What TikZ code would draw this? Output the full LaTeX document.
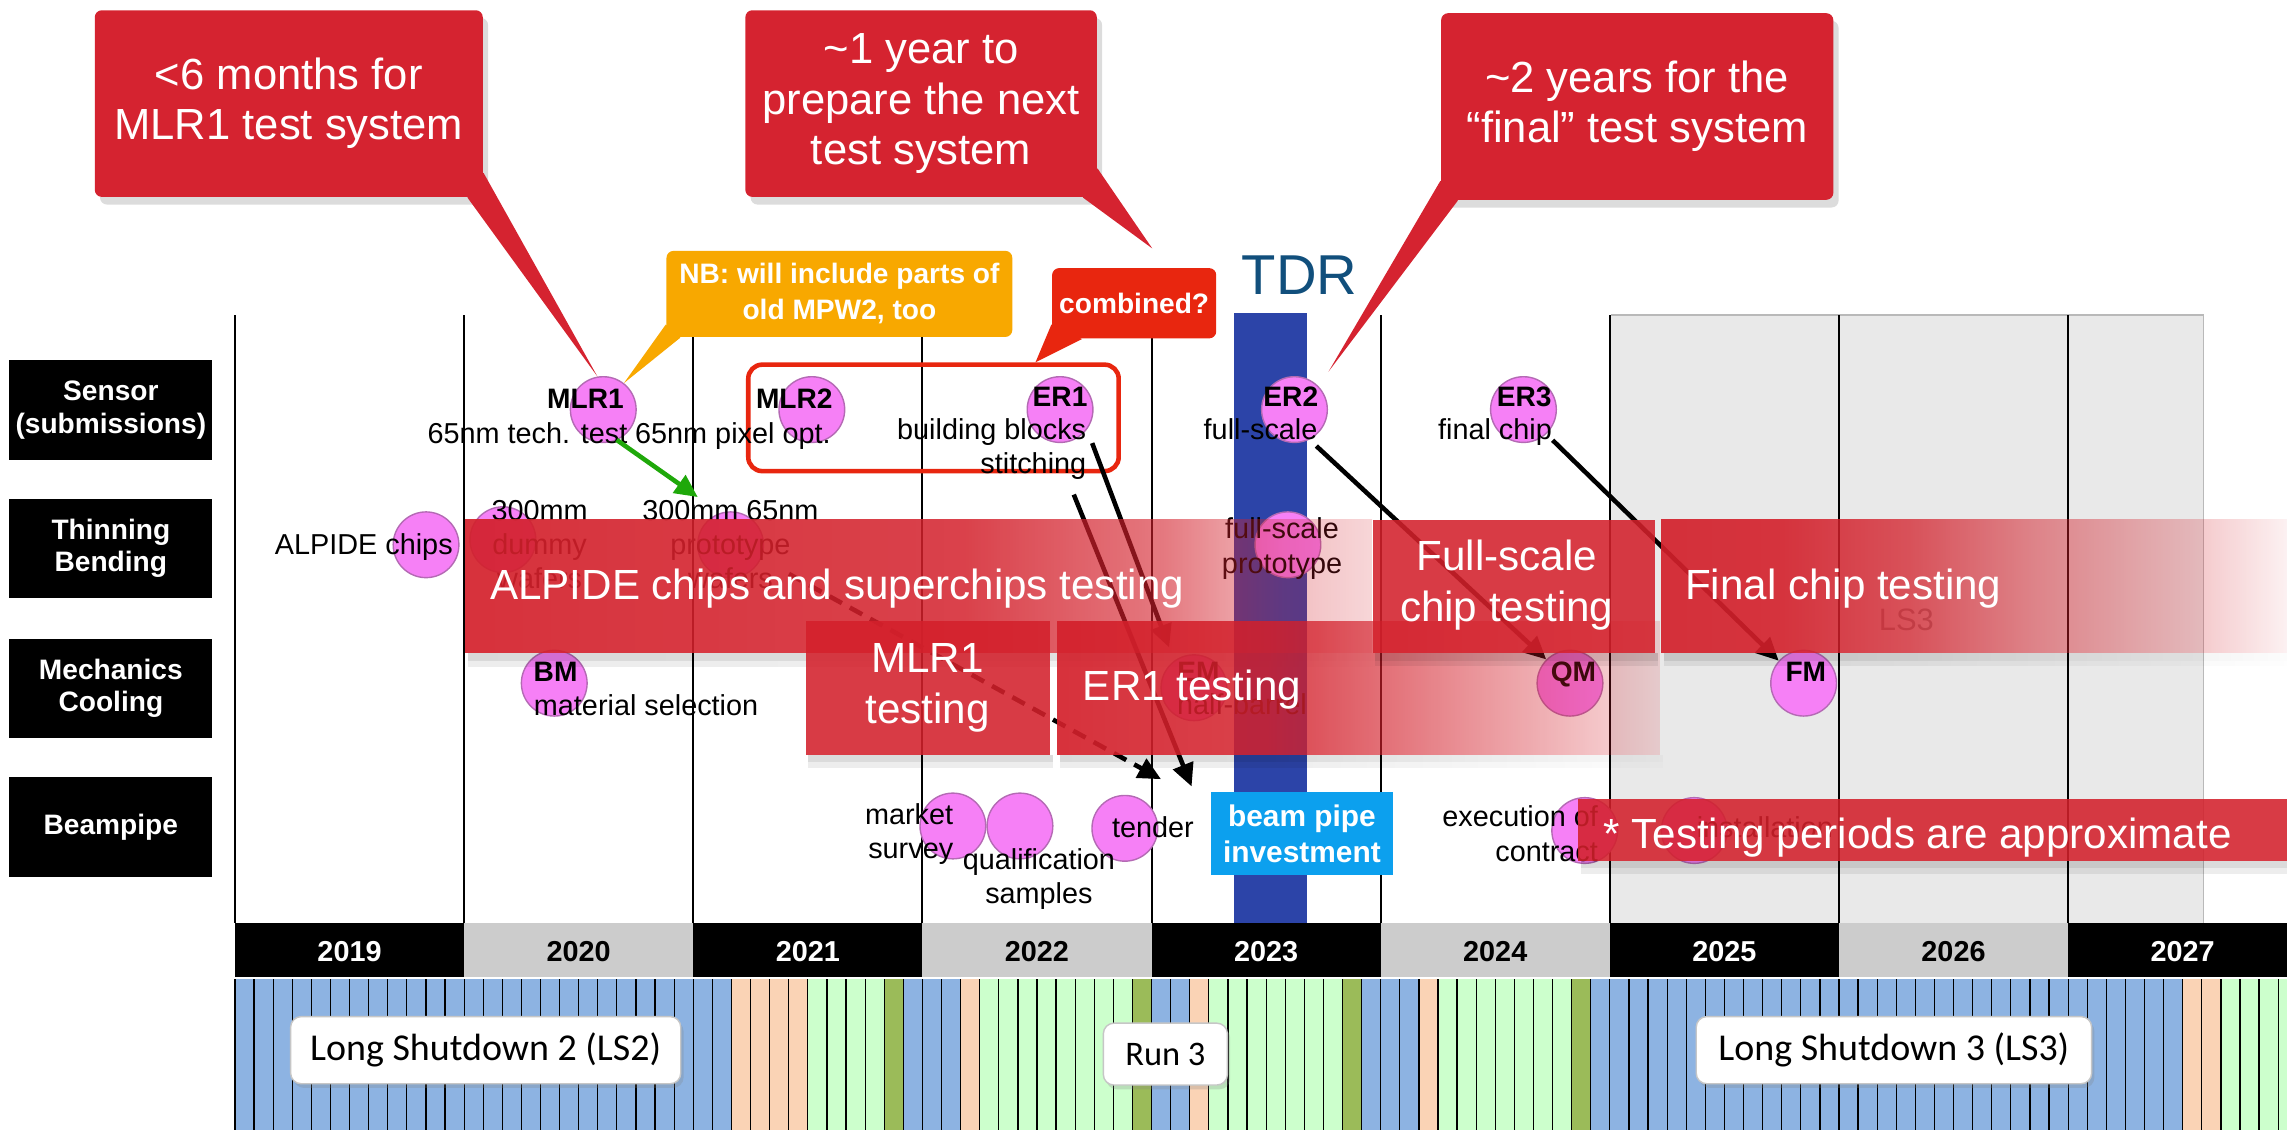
\documentclass[tikz,border=0pt]{standalone}
\usepackage{fontspec}
\setmainfont{Liberation Sans}
\newfontfamily\calfont{Carlito}
\usetikzlibrary{arrows.meta,calc,positioning,shadows,fadings}
\definecolor{callred}{HTML}{D52330}
\definecolor{bandred}{HTML}{D3202B}
\definecolor{nbyellow}{HTML}{F8A800}
\definecolor{combred}{HTML}{E8260F}
\definecolor{mspink}{HTML}{F680F6}
\definecolor{msedge}{HTML}{B46AB4}
\definecolor{tdrblue}{HTML}{114F7C}
\definecolor{tdrbar}{HTML}{2C44A8}
\definecolor{bpblue}{HTML}{0CA0EE}
\definecolor{yeargray}{HTML}{CCCCCC}
\definecolor{lsgray}{HTML}{E9E9E9}
\definecolor{mblue}{HTML}{8DB3E2}
\definecolor{mpeach}{HTML}{FAD3B5}
\definecolor{mgreen}{HTML}{CCFFCC}
\definecolor{molive}{HTML}{9BBB59}
\definecolor{arrgreen}{HTML}{1FA80A}
% the path spans 25bp..75bp of a fading
\pgfdeclarehorizontalshading{shflat}{100bp}{color(0bp)=(pgftransparent!12); color(100bp)=(pgftransparent!12)}
\pgfdeclarehorizontalshading{shA}{100bp}{color(0bp)=(pgftransparent!8); color(25bp)=(pgftransparent!8); color(52.5bp)=(pgftransparent!15); color(63.5bp)=(pgftransparent!40); color(70bp)=(pgftransparent!70); color(75bp)=(pgftransparent!82); color(100bp)=(pgftransparent!82)}
\pgfdeclarehorizontalshading{shC}{100bp}{color(0bp)=(pgftransparent!8); color(25bp)=(pgftransparent!8); color(42.5bp)=(pgftransparent!15); color(58.5bp)=(pgftransparent!50); color(75bp)=(pgftransparent!85); color(100bp)=(pgftransparent!85)}
\pgfdeclarehorizontalshading{shE}{100bp}{color(0bp)=(pgftransparent!8); color(25bp)=(pgftransparent!8); color(35bp)=(pgftransparent!10); color(45bp)=(pgftransparent!25); color(55bp)=(pgftransparent!50); color(67.5bp)=(pgftransparent!75); color(75bp)=(pgftransparent!94); color(100bp)=(pgftransparent!94)}
\pgfdeclarefading{bandflat}{\pgfuseshading{shflat}}
\pgfdeclarefading{bandfadeA}{\pgfuseshading{shA}}
\pgfdeclarefading{bandfadeC}{\pgfuseshading{shC}}
\pgfdeclarefading{bandfadeE}{\pgfuseshading{shE}}
\tikzset{
 lane/.style={fill=black,text=white,font=\bfseries\fontsize{8}{9.3}\selectfont,align=center,minimum width=57.8pt,minimum height=28.4pt,inner sep=0pt},
 ms/.style={circle,fill=mspink,draw=msedge,line width=0.4pt,minimum size=18.7pt,inner sep=0pt},
 msname/.style={font=\bfseries\fontsize{8}{9.6}\selectfont,inner sep=0pt,anchor=base},
 mstext/.style={font=\fontsize{8.2}{9.8}\selectfont,inner sep=0pt,align=center},
 yrlbl/.style={font=\bfseries\fontsize{8.2}{9.6}\selectfont,inner sep=0pt,anchor=base},
 sched/.style={fill=white,draw=gray!45,line width=0.4pt,rounded corners=3pt,font=\calfont\fontsize{10.8}{12}\selectfont,inner sep=0pt,minimum height=19.1pt,drop shadow={opacity=0.25,shadow xshift=0.8pt,shadow yshift=-1.2pt}},
 callbox/.style={fill=callred,text=white,rounded corners=2pt,font=\fontsize{12.4}{14.3}\selectfont,align=center,inner sep=0pt,drop shadow={opacity=0.28,shadow xshift=1.5pt,shadow yshift=-2.2pt}},
 notebox/.style={text=white,rounded corners=2pt,font=\bfseries\fontsize{8}{10.2}\selectfont,align=center,inner sep=0pt},
 bandtxt/.style={text=white,font=\fontsize{12}{14.6}\selectfont,align=center,inner sep=0pt},
 arr/.style={line width=1.3pt,-{Triangle[length=6.5pt,width=6pt]}},
}
\newcommand{\tband}[5]{% x1 y1 x2 y2 fading
 \fill[black,fill opacity=0.16,path fading=#5] (#1+2,#4) rectangle (#3+2,#4+5);
 \fill[black,fill opacity=0.08,path fading=#5] (#1+2,#4+5) rectangle (#3+2,#4+9);
 \fill[bandred,path fading=#5] (#1,#2) rectangle (#3,#4);
}

\begin{document}
\begin{tikzpicture}[x=0.415pt,y=-0.415pt]
\useasboundingbox (0,0) rectangle (1568,775);
\clip (0,0) rectangle (1568,775);

% timeline grid
\fill[lsgray] (1104.2,216) rectangle (1510.6,633);
\draw[gray!55,line width=0.4pt] (1104.2,216) -- (1510.6,216) -- (1510.6,633);
\fill[tdrbar] (846.2,214.3) rectangle (895.8,633);
\foreach \i in {0,...,8} \draw[line width=0.55pt] ({161.1+\i*157.1},216) -- ({161.1+\i*157.1},633);
\foreach \i/\yr/\bg/\fg in {0/2019/black/white,1/2020/yeargray/black,2/2021/black/white,3/2022/yeargray/black,4/2023/black/white,5/2024/yeargray/black,6/2025/black/white,7/2026/yeargray/black,8/2027/black/white} {
 \fill[\bg] ({161.1+\i*157.1},633) rectangle ++(157.1,36.5);
 \node[yrlbl,text=\fg] (y\yr) at ({161.1+(\i+0.5)*157.1},659) {\yr};
}

% LHC schedule
\fill[mblue] (161.1,671.5) rectangle (1568,775);
\foreach \a/\b/\c in {26/30/mpeach,30/34/mgreen,34/35/molive,38/39/mpeach,39/47/mgreen,47/48/molive,50/51/mpeach,51/58/mgreen,58/59/molive,62/63/mpeach,63/70/mgreen,70/71/molive,102/104/mpeach,104/112/mgreen} \fill[\c] ({161.1+\a*13.092},671.5) rectangle ({161.1+\b*13.092},775);
\foreach \m in {0,...,110} \draw[line width=0.35pt] ({161.1+\m*13.092},671.5) -- ({161.1+\m*13.092},775);
\node[sched,minimum width=111pt] (ls2) at (333,720) {Long Shutdown 2 (LS2)};
\node[sched,minimum width=35.3pt,minimum height=17.6pt,font=\calfont\fontsize{9.8}{11}\selectfont] (run3) at (799,722.7) {Run 3};
\node[sched,minimum width=112.5pt] (ls3) at (1298.5,720) {Long Shutdown 3 (LS3)};

% rows
\node[lane] (sensor) at (76,281) {Sensor\\(submissions)};
\node[lane] (thin) at (76,376) {Thinning\\Bending};
\node[lane] (mech) at (76,472) {Mechanics\\Cooling};
\node[lane] (pipe) at (76,567) {Beampipe};

\node[draw=combred,line width=1.3pt,rounded corners=4pt,minimum width=105.4pt,minimum height=30.3pt,inner sep=0pt] (combo) at (640,286.5) {};

% milestones
\foreach \n/\x/\y in {mlr1/413.6/280.8,mlr2/556.6/280.8,er1/726.8/280.8,er2/887.5/280.8,er3/1044.5/280.8,alp/292.1/373.5,dum/344.8/370,proto/500.9/373.5,fsp/883/373.5,bm/380/468.4,em/818.6/471.5,qm/1076.4/468.4,fm/1236.6/468.4,msv/653.3/566.3,qual/699.3/566.3,tend/771.2/567.9,exe/1086.5/569.4,inst/1161.6/569.4} \node[ms] (\n) at (\x,\y) {};
\foreach \n/\lbl/\x/\y in {mlr1/MLR1/401.4/280,mlr2/MLR2/544.6/280,er1/ER1/726.8/279,er2/ER2/885/279,er3/ER3/1045/279,bm/BM/380.9/467.5,em/EM/821.7/467.5,qm/QM/1078.8/467.5,fm/FM/1238.1/467.5} \node[msname] (\n-lbl) at (\x,\y) {\lbl};

\node[mstext,anchor=base west] (mlr1t) at (292.7,304) {65nm tech. test};
\node[mstext,anchor=base west] (mlr2t) at (435,304) {65nm pixel opt.};
\node[mstext,anchor=base east] (er1t) at (745.2,301.6) {building blocks};
\node[mstext,anchor=base east] (stitch) at (745.2,324.5) {stitching};
\node[mstext,anchor=base west] (er2t) at (824.8,301) {full-scale};
\node[mstext,anchor=base west] (er3t) at (985.5,301) {final chip};
\node[mstext,anchor=base west] (alpt) at (188,380.5) {ALPIDE chips};
\node[mstext,anchor=north] (dumt) at (370,342.3) {300mm\\dummy\\wafers};
\node[mstext,anchor=north] (protot) at (500.8,342.3) {300mm 65nm\\prototype\\wafers};
\node[mstext,anchor=north] (fspt) at (879,354.5) {full-scale\\prototype};
\node[mstext,anchor=base west] (bmt) at (365.6,490.7) {material selection};
\node[mstext,anchor=base] (emt) at (851.5,489.8) {half-barrel};
\node[mstext,anchor=north east,align=right] (msvt) at (654,550.4) {market\\survey};
\node[mstext,anchor=north] (qualt) at (712.3,581) {qualification\\samples};
\node[mstext,anchor=base west] (tendt) at (762,574) {tender};
\node[mstext,anchor=north east,align=right] (exet) at (1096,551.9) {execution of\\contract};
\node[mstext,anchor=base] (instt) at (1210,574) {installation};

% arrows
\draw[arr,draw=arrgreen] ($(mlr1)+(9.2,20.8)$) -- ($(protot.north west)+(38.5,-1.5)$);
\draw[arr] ($(er1)+(22,23)$) -- ($(em)+(-17,-27.6)$);
\draw[arr] ($(stitch.south east)+(-9,10)$) -- ($(tendt.north east)+(-2,-20)$);
\draw[arr,dash pattern=on 4pt off 2.6pt] ($(proto)+(40,20)$) -- ($(tendt.north west)+(34,-25)$);
\draw[arr] ($(er2)+(15,25)$) -- (qm.135);
\draw[arr] ($(er3)+(20,21)$) -- (fm.138);

\node[font=\fontsize{8.8}{10}\selectfont,text=gray!85,inner sep=0pt,anchor=base] (ls3g) at (1307,432) {LS3};

% testing periods
\tband{319}{356}{941}{448}{bandfadeA}
\node[bandtxt,anchor=base west] (tA) at (335.6,411.2) {ALPIDE chips and superchips testing};
\tband{552.3}{426}{720}{517.4}{bandflat}
\node[bandtxt] (tB) at (636,471.7) {MLR1\\testing};
\tband{724.7}{425.5}{1138}{517.4}{bandfadeC}
\node[bandtxt,anchor=base west] (tC) at (742,480.6) {ER1 testing};
\tband{941}{356.7}{1134.6}{447.9}{bandflat}
\node[bandtxt] (tD) at (1033,401) {Full-scale\\chip testing};
\tband{1138.6}{356}{1568}{447.9}{bandfadeE}
\node[bandtxt,anchor=base west] (tE) at (1154.8,411.2) {Final chip testing};
\tband{1082}{548}{1568}{590}{bandflat}
\node[bandtxt,anchor=base west] (tF) at (1098.8,581.6) {* Testing periods are approximate};

\node[fill=bpblue,text=white,font=\bfseries\fontsize{8.5}{10.2}\selectfont,align=center,inner sep=0pt,minimum width=51.7pt,minimum height=23.7pt] (bpi) at (892.6,571.4) {beam pipe\\investment};
\node[font=\fontsize{16}{18}\selectfont,text=tdrblue,inner sep=0pt,anchor=base] (tdr) at (891,202) {TDR};

% callouts
\node[callbox,minimum width=110.4pt,minimum height=53.1pt] (c1) at (198,71) {<6 months for\\MLR1 test system};
\fill[callred] ($(c1.south east)+(-11,0)$) -- (mlr1.100) -- ($(c1.south east)+(0,-17)$) -- cycle;
\node[notebox,fill=combred,minimum width=46.7pt,minimum height=20pt] (comb) at (777.6,207.9) {combined?};
\fill[combred] ($(comb.south west)+(0,-10)$) -- ($(combo.north west)+(198.5,0)$) -- ($(comb.south west)+(21,0)$) -- cycle;
\node[callbox,minimum width=100pt,minimum height=53.1pt] (c2) at (631.5,71) {\textasciitilde1 year to\\prepare the next\\test system};
\fill[callred] ($(c2.south east)+(-10,0)$) -- ($(comb.north)+(12.4,-13)$) -- ($(c2.south east)+(0,-20)$) -- cycle;
\node[notebox,fill=nbyellow,minimum width=98.4pt,minimum height=24.5pt] (nb) at (575.5,201.5) {NB: will include parts of\\old MPW2, too};
\fill[nbyellow] ($(nb.south west)+(0,-9)$) -- (mlr1.52) -- ($(nb.south west)+(10,0)$) -- cycle;
\node[callbox,minimum width=111.6pt,minimum height=53.1pt] (c3) at (1122.5,73) {\textasciitilde2 years for the\\“final” test system};
\fill[callred] ($(c3.south west)+(0,-13.5)$) -- ($(er2.48)+(8,-9)$) -- ($(c3.south west)+(12,0)$) -- cycle;

\end{tikzpicture}
\end{document}
